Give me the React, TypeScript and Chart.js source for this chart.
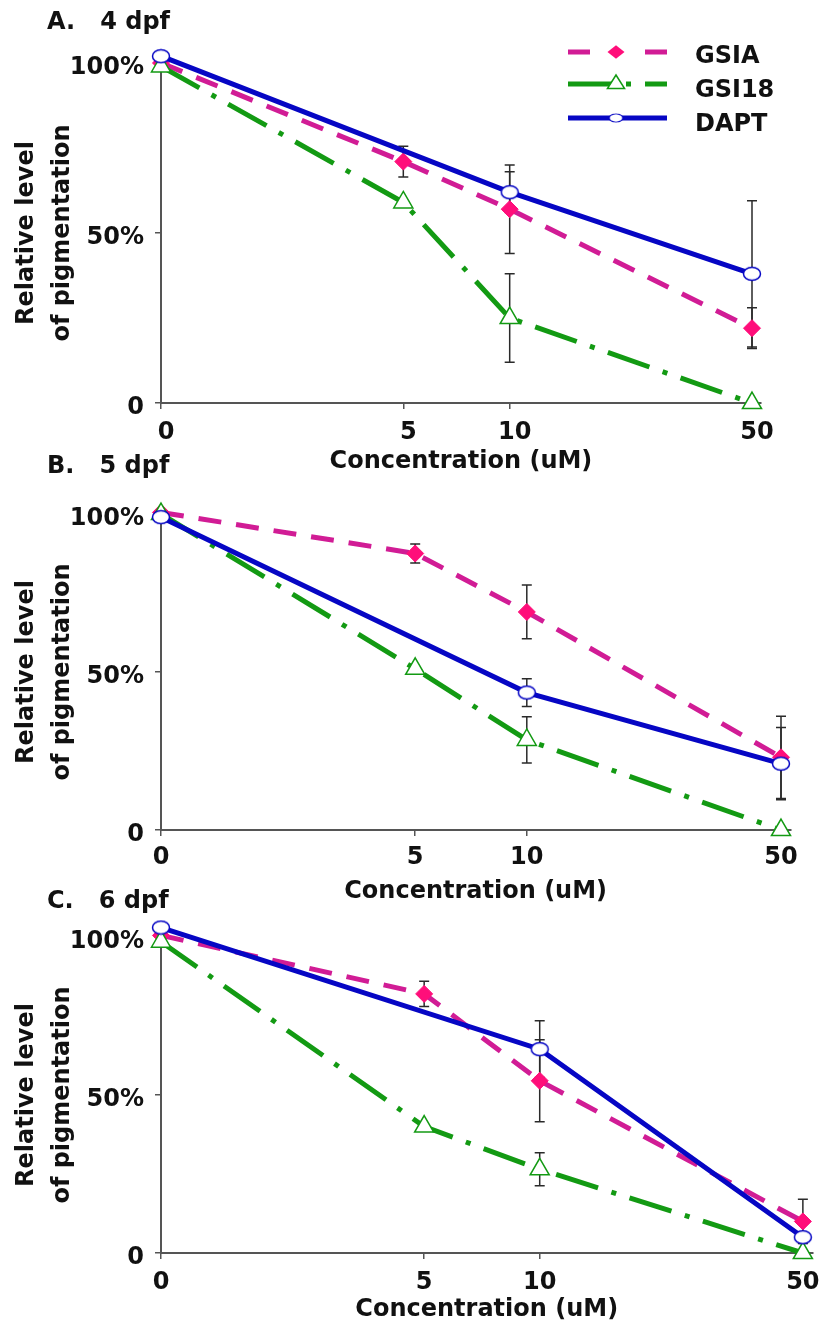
import React, { useEffect, useRef } from 'react';
import { Chart, registerables } from 'chart.js';

Chart.register(...registerables);

// ---------- data ----------
const concentrations = ['0', '5', '10', '50'];
// position of each concentration on the (non-proportional) x axis
const xSlots = [0, 0.41, 0.59, 1];
const seriesNames = ['GSIA', 'GSI18', 'DAPT'];
const panelTitles = ['A.   4 dpf', 'B.   5 dpf', 'C.   6 dpf'];
const yTickValues = [0, 50, 100];
const yTickLabels = ['0', '50%', '100%'];
const xAxisTitle = 'Concentration (uM)';
const yAxisTitle = ['Relative level', 'of pigmentation'];

// Panel A (4 dpf)
const gsiaA = [100, 71, 57, 22];
const gsiaErrA = [0, 4.5, 13, 6];
const gsi18A = [99, 59, 25, 0];
const gsi18ErrA = [0, 0, 13, 0];
const daptA = [102, null, 62, 38];
const daptErrA = [0, 0, 6, 21.5];

// Panel B (5 dpf)
const gsiaB = [100.5, 87.5, 69, 23];
const gsiaErrB = [0, 3, 8.5, 13];
const gsi18B = [100, 51, 28.5, 0];
const gsi18ErrB = [0, 0, 7.3, 0];
const daptB = [99, null, 43.5, 21];
const daptErrB = [0, 0, 4.4, 11.4];

// Panel C (6 dpf)
const gsiaC = [100.5, 82, 54.5, 10];
const gsiaErrC = [0, 4, 13, 7];
const gsi18C = [98.5, 40, 26.5, 0];
const gsi18ErrC = [0, 0, 5.2, 0];
const daptC = [103, null, 64.5, 5];
const daptErrC = [0, 0, 9, 0];

// ---------- styles / layout ----------
const FONT = "'DejaVu Sans', 'Liberation Sans', Arial, sans-serif";
const PINK_LINE = '#D11C95';
const PINK_MARK = '#FF0E7A';
const GREEN = '#139A13';
const BLUE = '#0606C4';
const AXIS = '#555555';
const TEXT = '#111111';
const W = 825;

const panels = [
  { title: panelTitles[0], top: 0, height: 480, chartTop: 63, chartBottom: 403, xEnd: 752, titleY: 23, xPad: 9, xLabelOffset: 5, legend: true,
    values: [gsiaA, gsi18A, daptA], errors: [gsiaErrA, gsi18ErrA, daptErrA] },
  { title: panelTitles[1], top: 440, height: 470, chartTop: 74, chartBottom: 390, xEnd: 781, titleY: 27, xPad: 7, xLabelOffset: 0, legend: false,
    values: [gsiaB, gsi18B, daptB], errors: [gsiaErrB, gsi18ErrB, daptErrB] },
  { title: panelTitles[2], top: 880, height: 448, chartTop: 57, chartBottom: 373, xEnd: 808, titleY: 22, xPad: 9, xLabelOffset: 0, legend: false,
    values: [gsiaC, gsi18C, daptC], errors: [gsiaErrC, gsi18ErrC, daptErrC] },
];

const CHART_LEFT = 161;
const X_MAX = 1.015;

function makeEllipse(): HTMLCanvasElement {
  const c = document.createElement('canvas');
  c.width = 20;
  c.height = 16;
  const ctx = c.getContext('2d')!;
  ctx.beginPath();
  ctx.ellipse(10, 8, 8.5, 6.5, 0, 0, Math.PI * 2);
  ctx.fillStyle = '#ffffff';
  ctx.fill();
  ctx.lineWidth = 1.5;
  ctx.strokeStyle = BLUE;
  ctx.stroke();
  return c;
}

const seriesStyles = [
  { borderColor: PINK_LINE, borderDash: [23, 15], pointStyle: 'rectRot', pointRadius: 8.5, pointBackgroundColor: PINK_MARK, pointBorderColor: PINK_MARK, pointBorderWidth: 1 },
  { borderColor: GREEN, borderDash: [44, 14, 5, 14], pointStyle: 'triangle', pointRadius: 11, pointBackgroundColor: '#ffffff', pointBorderColor: GREEN, pointBorderWidth: 1.5 },
  { borderColor: BLUE, borderDash: [], pointStyle: 'ellipse', pointRadius: 9, pointBackgroundColor: '#ffffff', pointBorderColor: BLUE, pointBorderWidth: 1.5 },
];

function drawMarker(ctx: CanvasRenderingContext2D, idx: number, x: number, y: number, ellipse: HTMLCanvasElement) {
  const s = seriesStyles[idx];
  ctx.save();
  ctx.setLineDash([]);
  if (s.pointStyle === 'rectRot') {
    const r = s.pointRadius;
    ctx.beginPath();
    ctx.moveTo(x - r, y);
    ctx.lineTo(x, y - r * 0.8);
    ctx.lineTo(x + r, y);
    ctx.lineTo(x, y + r * 0.8);
    ctx.closePath();
    ctx.fillStyle = s.pointBackgroundColor;
    ctx.fill();
  } else if (s.pointStyle === 'triangle') {
    const r = 9;
    ctx.beginPath();
    ctx.moveTo(x, y - r);
    ctx.lineTo(x + r * 0.95, y + r * 0.5);
    ctx.lineTo(x - r * 0.95, y + r * 0.5);
    ctx.closePath();
    ctx.fillStyle = '#ffffff';
    ctx.fill();
    ctx.lineWidth = 1.5;
    ctx.strokeStyle = GREEN;
    ctx.stroke();
  } else {
    ctx.drawImage(ellipse, x - 8, y - 5, 16, 10);
  }
  ctx.restore();
}

function PanelChart({ cfg }: { cfg: typeof panels[number] }) {
  const ref = useRef<HTMLCanvasElement | null>(null);

  useEffect(() => {
    const canvas = ref.current;
    if (!canvas) return;
    const ellipse = makeEllipse();
    const plotRight = CHART_LEFT + (cfg.xEnd - CHART_LEFT) * X_MAX;

    const datasets = seriesNames.map((name, s) => {
      const st = seriesStyles[s];
      return {
        label: name,
        data: cfg.values[s].map((v, i) => ({ x: xSlots[i], y: v })),
        borderColor: st.borderColor,
        backgroundColor: st.borderColor,
        borderWidth: 5,
        borderDash: st.borderDash,
        borderCapStyle: 'butt',
        tension: 0,
        spanGaps: true,
        clip: false,
        pointStyle: st.pointStyle === 'ellipse' ? ellipse : st.pointStyle,
        pointRadius: st.pointRadius,
        pointBackgroundColor: st.pointBackgroundColor,
        pointBorderColor: st.pointBorderColor,
        pointBorderWidth: st.pointBorderWidth,
        order: 2 - s,
      };
    });

    const decor = {
      id: 'decor',
      beforeDatasetsDraw(chart: any) {
        const ctx = chart.ctx as CanvasRenderingContext2D;
        const xs = chart.scales.x;
        const ys = chart.scales.y;
        ctx.save();
        ctx.strokeStyle = '#2a2a2a';
        ctx.lineWidth = 1.5;
        ctx.setLineDash([]);
        cfg.values.forEach((vals, s) => {
          vals.forEach((v, i) => {
            const e = cfg.errors[s][i];
            if (v === null || !e) return;
            const px = xs.getPixelForValue(xSlots[i]);
            const y1 = ys.getPixelForValue(v + e);
            const y2 = ys.getPixelForValue(v - e);
            ctx.beginPath();
            ctx.moveTo(px, y1);
            ctx.lineTo(px, y2);
            ctx.moveTo(px - 5, y1);
            ctx.lineTo(px + 5, y1);
            ctx.moveTo(px - 5, y2);
            ctx.lineTo(px + 5, y2);
            ctx.stroke();
          });
        });
        ctx.restore();
      },
      afterDraw(chart: any) {
        const ctx = chart.ctx as CanvasRenderingContext2D;
        ctx.save();
        ctx.fillStyle = TEXT;
        ctx.font = `bold 24px ${FONT}`;
        ctx.textBaseline = 'middle';
        ctx.textAlign = 'left';
        ctx.fillText(cfg.title, 47, cfg.titleY);
        if (cfg.legend) {
          const rows = [52, 84, 118];
          const textRows = [57, 91, 125];
          const x0 = 568;
          const x1 = 667;
          seriesNames.forEach((name, s) => {
            const st = seriesStyles[s];
            ctx.save();
            ctx.strokeStyle = st.borderColor;
            ctx.lineWidth = 5;
            ctx.lineCap = 'butt';
            ctx.setLineDash(s === 0 ? [22, 77 - 22] : st.borderDash);
            ctx.beginPath();
            ctx.moveTo(x0, rows[s]);
            ctx.lineTo(x1, rows[s]);
            ctx.stroke();
            ctx.restore();
            drawMarker(ctx, s, 616, rows[s], ellipse);
            ctx.fillStyle = TEXT;
            ctx.font = `bold 24px ${FONT}`;
            ctx.textBaseline = 'middle';
            ctx.fillText(name, 695, textRows[s]);
          });
        }
        ctx.restore();
      },
    };

    const chart = new Chart(canvas, {
      type: 'line',
      data: { datasets: datasets as any },
      options: {
        responsive: false,
        animation: false,
        devicePixelRatio: 1,
        layout: { padding: { top: cfg.chartTop, right: W - plotRight, bottom: 0, left: 0 } },
        plugins: { legend: { display: false }, tooltip: { enabled: false }, title: { display: false } },
        scales: {
          x: {
            type: 'linear',
            min: 0,
            max: X_MAX,
            afterBuildTicks: (scale: any) => {
              scale.ticks = xSlots.map((v) => ({ value: v }));
            },
            afterFit: (scale: any) => {
              scale.height = cfg.height - cfg.chartBottom;
              scale.paddingLeft = 0;
              scale.paddingRight = 0;
            },
            ticks: {
              autoSkip: false,
              maxRotation: 0,
              minRotation: 0,
              padding: cfg.xPad,
              labelOffset: cfg.xLabelOffset,
              color: TEXT,
              font: { family: FONT, size: 24, weight: 'bold' },
              callback: (_v: any, i: number) => concentrations[i],
            },
            grid: { display: true, drawOnChartArea: false, drawTicks: true, tickLength: 6, color: AXIS, lineWidth: 1.5 },
            border: { display: true, color: AXIS, width: 2 },
            title: {
              display: true,
              text: xAxisTitle,
              color: TEXT,
              font: { family: FONT, size: 24, weight: 'bold', lineHeight: 1.2 },
              padding: { top: 0, bottom: 4 },
            },
          },
          y: {
            type: 'linear',
            min: 0,
            max: 100,
            afterBuildTicks: (scale: any) => {
              scale.ticks = yTickValues.map((v) => ({ value: v }));
            },
            afterFit: (scale: any) => {
              scale.width = CHART_LEFT;
              scale.paddingTop = 0;
              scale.paddingBottom = 0;
            },
            ticks: {
              padding: 11,
              labelOffset: 5,
              color: TEXT,
              font: { family: FONT, size: 24, weight: 'bold' },
              callback: (_v: any, i: number) => yTickLabels[i],
            },
            grid: { display: true, drawOnChartArea: false, drawTicks: true, tickLength: 6, color: AXIS, lineWidth: 1.5 },
            border: { display: true, color: AXIS, width: 2 },
            title: {
              display: true,
              text: yAxisTitle,
              color: TEXT,
              font: { family: FONT, size: 24, weight: 'bold', lineHeight: 1.5 },
              padding: { top: 9, bottom: 0 },
            },
          },
        },
      } as any,
      plugins: [decor],
    });

    return () => chart.destroy();
  }, [cfg]);

  return (
    <canvas
      ref={ref}
      width={W}
      height={cfg.height}
      style={{ position: 'absolute', left: 0, top: cfg.top, width: W, height: cfg.height }}
    />
  );
}

export default function App() {
  return (
    <div style={{ position: 'absolute', left: 0, top: 0, width: W, height: 1328, overflow: 'hidden', background: '#ffffff' }}>
      {panels.map((p, i) => (
        <PanelChart key={i} cfg={p} />
      ))}
    </div>
  );
}
